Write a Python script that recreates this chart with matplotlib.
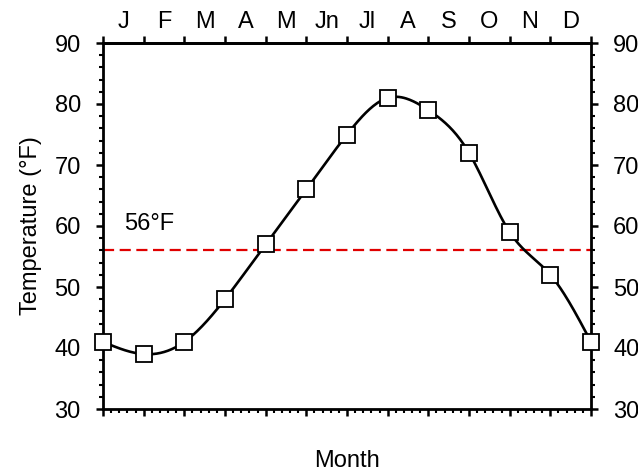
import numpy as np
from matplotlib import pyplot as plt
from matplotlib.ticker import MultipleLocator

plt.rcParams['font.family'] = ['Liberation Sans', 'DejaVu Sans']

month_pos = np.arange(13)
temps = [41, 39, 41, 48, 57, 66, 75, 81, 79, 72, 59, 52, 41]
month_labels = ['J', 'F', 'M', 'A', 'M', 'Jn', 'Jl', 'A', 'S', 'O', 'N', 'D']
threshold = 56
FS = 17


def natural_spline(x, y, n=400):
    x = np.asarray(x, float)
    y = np.asarray(y, float)
    k = len(x)
    h = np.diff(x)
    A = np.zeros((k, k))
    b = np.zeros(k)
    A[0, 0] = A[-1, -1] = 1
    for i in range(1, k - 1):
        A[i, i - 1] = h[i - 1]
        A[i, i] = 2 * (h[i - 1] + h[i])
        A[i, i + 1] = h[i]
        b[i] = 6 * ((y[i + 1] - y[i]) / h[i] - (y[i] - y[i - 1]) / h[i - 1])
    M = np.linalg.solve(A, b)
    xs = np.linspace(x[0], x[-1], n)
    idx = np.clip(np.searchsorted(x, xs) - 1, 0, k - 2)
    x0, x1 = x[idx], x[idx + 1]
    hh = x1 - x0
    t0, t1 = x1 - xs, xs - x0
    ys = (M[idx] * t0**3 + M[idx + 1] * t1**3) / (6 * hh) \
        + (y[idx] / hh - M[idx] * hh / 6) * t0 \
        + (y[idx + 1] / hh - M[idx + 1] * hh / 6) * t1
    return xs, ys


fig = plt.figure(figsize=(6.38, 4.70), dpi=100)
ax = fig.add_axes([103 / 638, 1 - 409 / 470, 488 / 638, 366 / 470])

xs, ys = natural_spline(month_pos, temps)
ax.plot(xs, ys, color='black', lw=1.9, zorder=2)
ax.plot(month_pos, temps, 's', ms=11, mfc='white', mec='black', mew=1.3,
        zorder=3, clip_on=False)
ax.axhline(threshold, color='#e00000', ls=(0, (5, 2.5)), lw=1.6, zorder=1)
ax.text(0.52, 60.4, '56°F', fontsize=FS, va='center', ha='left')

ax.set_xlim(0, 12)
ax.set_ylim(30, 90)
for s in ax.spines.values():
    s.set_linewidth(2)

ax.yaxis.set_major_locator(MultipleLocator(10))
ax.yaxis.set_minor_locator(MultipleLocator(2))
ax.xaxis.set_major_locator(MultipleLocator(1))
ax.xaxis.set_minor_locator(MultipleLocator(0.2))
ax.tick_params(axis='both', which='major', direction='out', length=5,
               width=1.8, labelsize=FS, pad=11)
ax.tick_params(axis='both', which='minor', direction='out', length=3,
               width=1.5)
ax.tick_params(axis='y', which='both', right=True, labelright=True)
ax.tick_params(axis='x', which='both', labelbottom=False)

top = ax.secondary_xaxis('top')
top.set_xticks(month_pos[:-1] + 0.5, labels=month_labels, minor=False)
top.set_xticks(month_pos, minor=True)
top.spines['top'].set_linewidth(2)
top.tick_params(axis='x', which='major', length=0, labelsize=FS, pad=7)
top.tick_params(axis='x', which='minor', direction='out', length=5, width=1.8)

ax.set_ylabel('Temperature (°F)', fontsize=FS, va='center')
ax.yaxis.set_label_coords(-0.148, 0.5)
ax.set_xlabel('Month', fontsize=FS, va='center')
ax.xaxis.set_label_coords(0.5, -0.142)

fig.savefig('out.png', dpi=100)
